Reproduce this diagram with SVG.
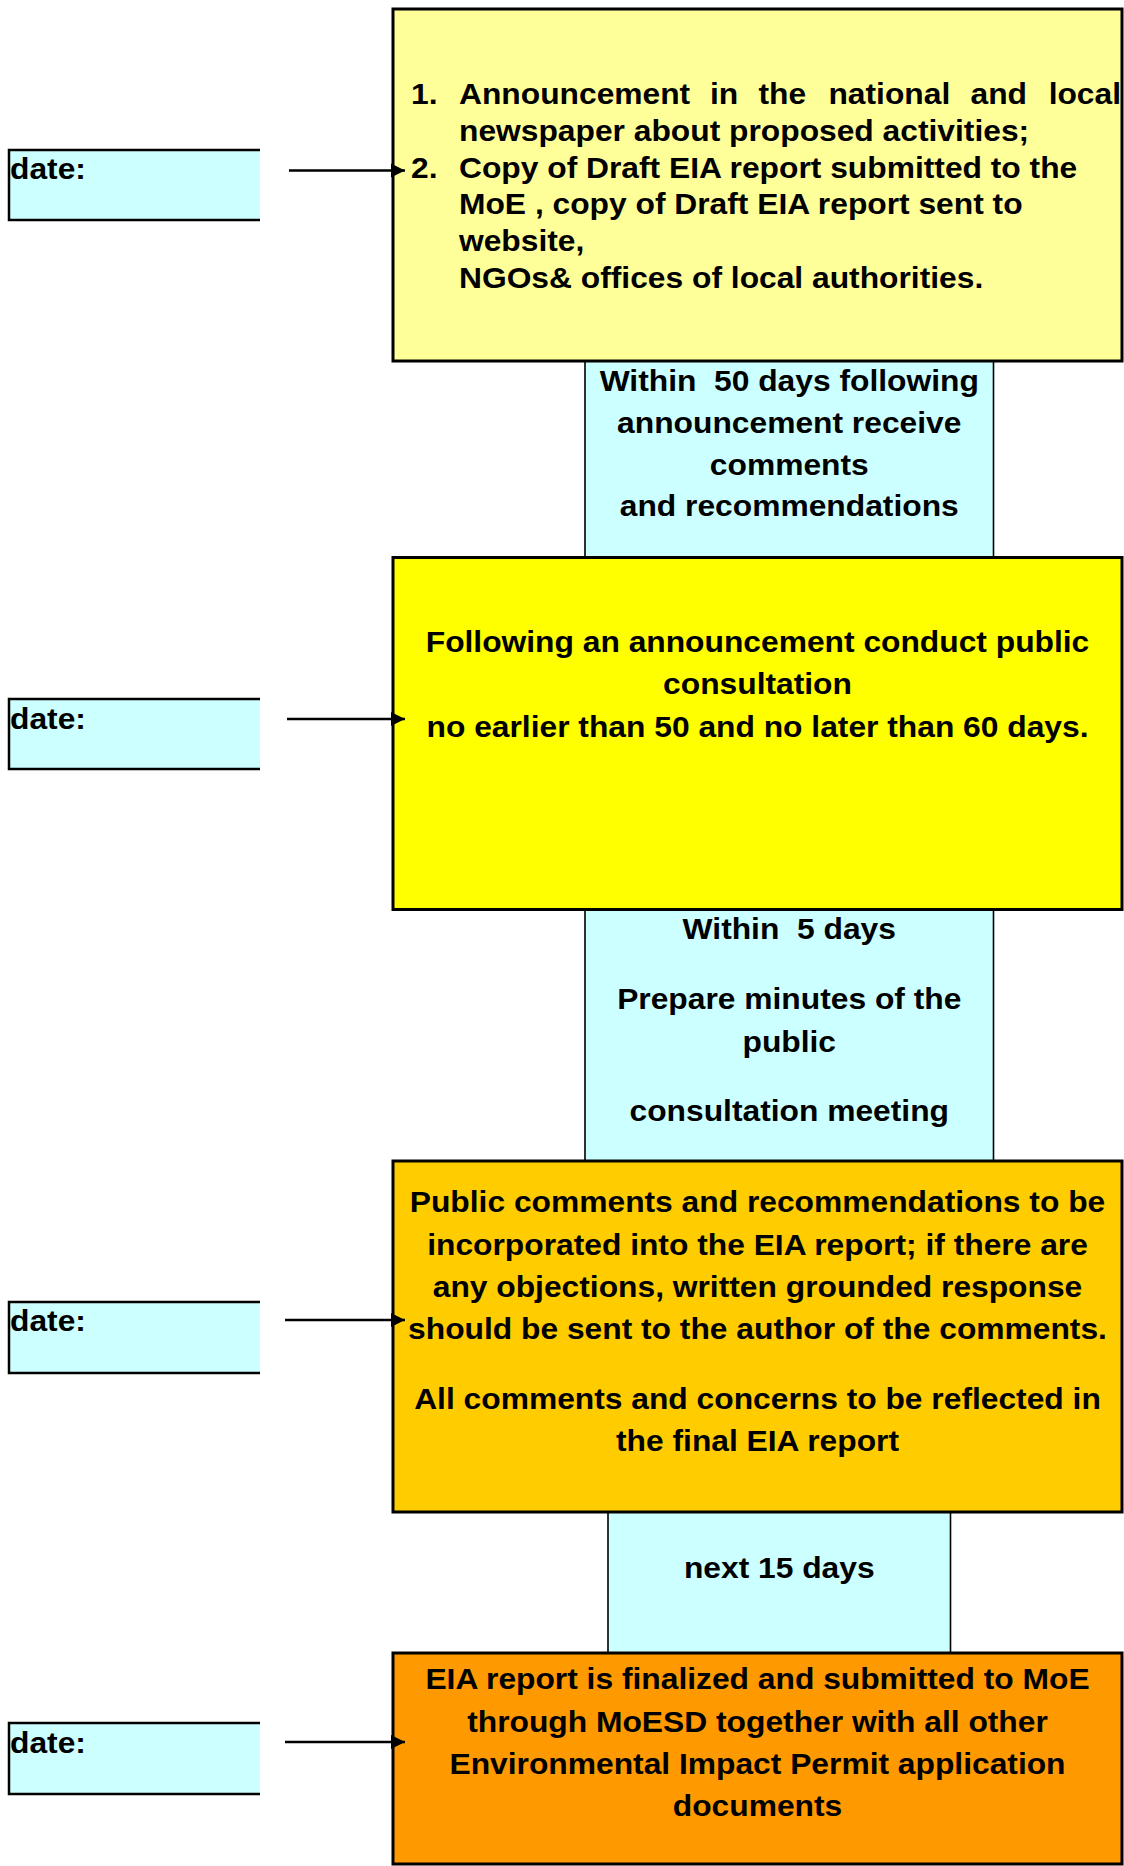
<svg xmlns="http://www.w3.org/2000/svg" width="1124" height="1866" viewBox="0 0 1124 1866">
<style>
.t{font-family:"Liberation Sans",Arial,Helvetica,sans-serif;font-weight:bold;font-size:29px;fill:#000}
.c{text-anchor:middle}
.main{stroke:#000;stroke-width:3}
.conn{fill:#CCFFFF;stroke:#000;stroke-width:1.6}
.date{fill:#CCFFFF}
.dateb{fill:none;stroke:#000;stroke-width:2.5}
.arrow{stroke:#000;stroke-width:2.6;fill:none;marker-end:url(#ah)}
</style>
<defs>
<marker id="ah" markerUnits="userSpaceOnUse" markerWidth="15" markerHeight="15" refX="14" refY="7.5" orient="auto">
<path d="M0,0.5 L14,7.5 L0,14.5 Z" fill="#000"/>
</marker>
</defs>
<rect width="1124" height="1866" fill="#fff"/>

<g id="conn-1">
<rect class="conn" x="585" y="358" width="408.5" height="202"/>
<g transform="translate(789.25,0) scale(1.096,1)">
<text class="t c" x="0" y="391" xml:space="preserve">Within  50 days following</text>
<text class="t c" x="0" y="433">announcement receive</text>
<text class="t c" x="0" y="475">comments</text>
<text class="t c" x="0" y="516.5">and recommendations</text>
</g>
</g>

<g id="conn-2">
<rect class="conn" x="585" y="907" width="408.5" height="256"/>
<g transform="translate(789.25,0) scale(1.096,1)">
<text class="t c" x="0" y="939" xml:space="preserve">Within  5 days</text>
<text class="t c" x="0" y="1009.5">Prepare minutes of the</text>
<text class="t c" x="0" y="1052">public</text>
<text class="t c" x="0" y="1121">consultation meeting</text>
</g>
</g>

<g id="conn-3">
<rect class="conn" x="608" y="1509" width="342.5" height="146"/>
<g transform="translate(779.25,0) scale(1.096,1)">
<text class="t c" x="0" y="1578">next 15 days</text>
</g>
</g>

<g id="box-1">
<rect class="main" x="393" y="9" width="729" height="352" fill="#FFFF99"/>
<g transform="translate(459,0) scale(1.096,1)">
<text class="t" x="-43.8" y="104">1.</text>
<text class="t" x="0" y="104">Announcement</text>
<text class="t" x="229" y="104">in</text>
<text class="t" x="273.3" y="104">the</text>
<text class="t" x="337.1" y="104">national</text>
<text class="t" x="466.7" y="104">and</text>
<text class="t" x="538" y="104">local</text>
<text class="t" x="0" y="140.8">newspaper about proposed activities;</text>
<text class="t" x="-43.8" y="177.6">2.</text>
<text class="t" x="0" y="177.6">Copy of Draft EIA report submitted to the</text>
<text class="t" x="0" y="214.4">MoE , copy of Draft EIA report sent to</text>
<text class="t" x="0" y="251.2">website,</text>
<text class="t" x="0" y="288">NGOs&amp; offices of local authorities.</text>
</g>
</g>

<g id="box-2">
<rect class="main" x="393" y="557.5" width="729" height="352" fill="#FFFF00"/>
<g transform="translate(757.5,0) scale(1.096,1)">
<text class="t c" x="0" y="652">Following an announcement conduct public</text>
<text class="t c" x="0" y="694.5">consultation</text>
<text class="t c" x="0" y="737">no earlier than 50 and no later than 60 days.</text>
</g>
</g>

<g id="box-3">
<rect class="main" x="393" y="1161" width="729" height="351" fill="#FFCC00"/>
<g transform="translate(757.5,0) scale(1.096,1)">
<text class="t c" x="0" y="1212.5">Public comments and recommendations to be</text>
<text class="t c" x="0" y="1255">incorporated into the EIA report; if there are</text>
<text class="t c" x="0" y="1297">any objections, written grounded response</text>
<text class="t c" x="0" y="1339">should be sent to the author of the comments.</text>
<text class="t c" x="0" y="1409">All comments and concerns to be reflected in</text>
<text class="t c" x="0" y="1451">the final EIA report</text>
</g>
</g>

<g id="box-4">
<rect class="main" x="393" y="1653" width="729" height="211" fill="#FF9900"/>
<g transform="translate(757.5,0) scale(1.096,1)">
<text class="t c" x="0" y="1689.5">EIA report is finalized and submitted to MoE</text>
<text class="t c" x="0" y="1732">through MoESD together with all other</text>
<text class="t c" x="0" y="1774">Environmental Impact Permit application</text>
<text class="t c" x="0" y="1816">documents</text>
</g>
</g>

<g id="date-1">
<rect class="date" x="9" y="150" width="251" height="70"/>
<path class="dateb" d="M260,150 H9 V220 H260"/>
<text class="t" x="0" y="179.5" transform="translate(10,0) scale(1.096,1)">date:</text>
</g>
<g id="date-2">
<rect class="date" x="9" y="699" width="251" height="70"/>
<path class="dateb" d="M260,699 H9 V769 H260"/>
<text class="t" x="0" y="729" transform="translate(10,0) scale(1.096,1)">date:</text>
</g>
<g id="date-3">
<rect class="date" x="9" y="1302" width="251" height="71"/>
<path class="dateb" d="M260,1302 H9 V1373 H260"/>
<text class="t" x="0" y="1331" transform="translate(10,0) scale(1.096,1)">date:</text>
</g>
<g id="date-4">
<rect class="date" x="9" y="1723" width="251" height="71"/>
<path class="dateb" d="M260,1723 H9 V1794 H260"/>
<text class="t" x="0" y="1753" transform="translate(10,0) scale(1.096,1)">date:</text>
</g>

<g id="connectors">
<line class="arrow" x1="289" y1="170.5" x2="405" y2="170.5"/>
<line class="arrow" x1="287" y1="719" x2="405" y2="719"/>
<line class="arrow" x1="285" y1="1320" x2="405" y2="1320"/>
<line class="arrow" x1="285" y1="1742" x2="405" y2="1742"/>
</g>
</svg>
